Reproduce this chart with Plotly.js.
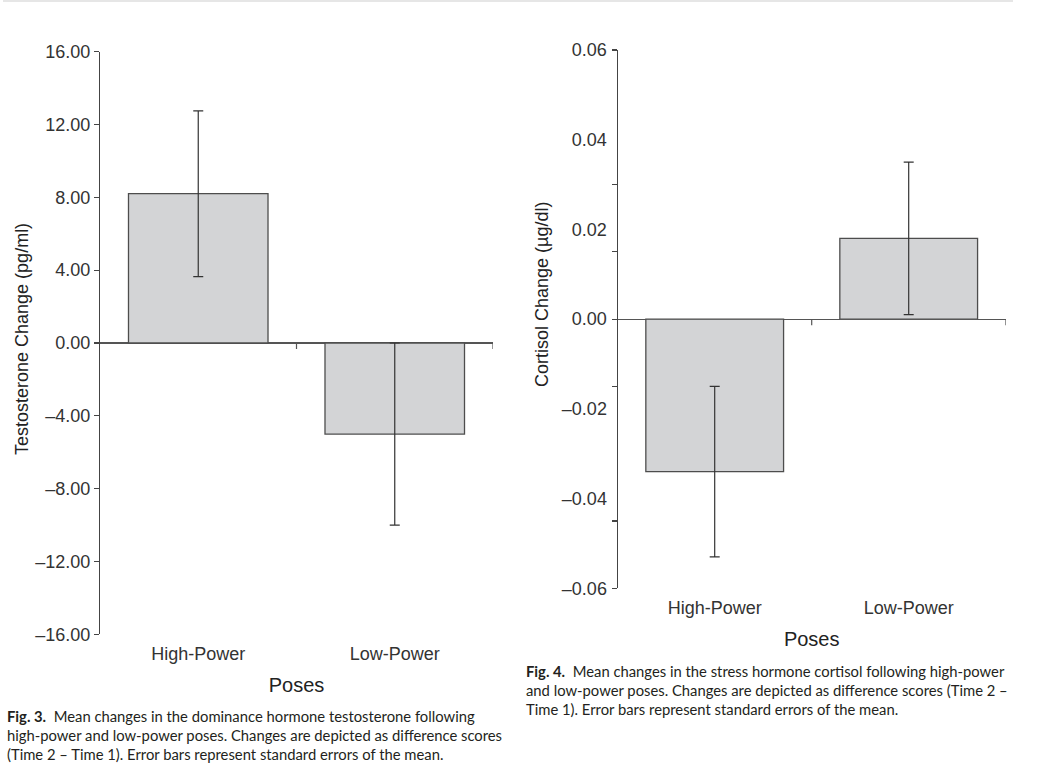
<!DOCTYPE html>
<html>
<head>
<meta charset="utf-8">
<script src="https://cdn.plot.ly/plotly-3.0.1.min.js"></script>
<style>html,body{margin:0;padding:0;background:#fff;}#chart{width:1052px;height:774px;}</style>
</head>
<body>
<div id="chart"></div>
<script>
// ---- data ----
const categories = ['High-Power', 'Low-Power'];
const testosteroneMeans = [8.2, -5.0];
const testosteroneSE = [4.55, 5.0];
const cortisolMeans = [-0.034, 0.018];
const cortisolSE = [0.019, 0.017];

const testoTickVals = [-16, -12, -8, -4, 0, 4, 8, 12, 16];
const testoTickText = ['–16.00', '–12.00', '–8.00', '–4.00', '0.00', '4.00', '8.00', '12.00', '16.00'];
const cortTickVals = [-0.06, -0.04, -0.02, 0, 0.02, 0.04, 0.06];
const cortTickText = ['–0.06', '–0.04', '–0.02', '0.00', '0.02', '0.04', '0.06'];
const cortMarkVals = [0.06, 0.03, 0.015, 0, -0.015, -0.045, -0.06];

const xTitle = 'Poses';
const testoTitle = 'Testosterone Change (pg/ml)';
const cortTitle = 'Cortisol Change (µg/dl)';
const caption3 = '<b>Fig. 3.</b>  Mean changes in the dominance hormone testosterone following<br>high-power and low-power poses. Changes are depicted as difference scores<br>(Time 2 – Time 1). Error bars represent standard errors of the mean.';
const caption4 = '<b>Fig. 4.</b>  Mean changes in the stress hormone cortisol following high-power<br>and low-power poses. Changes are depicted as difference scores (Time 2 –<br>Time 1). Error bars represent standard errors of the mean.';

// ---- layout helpers ----
const W = 1052, H = 774;
const px = v => v / W;
const py = v => 1 - v / H;

const barStyle = {color: '#d3d4d6', line: {color: '#4d4d4d', width: 1.3}};
const errStyle = {type: 'data', visible: true, color: '#333', thickness: 1.2, width: 5};

const traces = [
  {type: 'bar', x: categories, y: testosteroneMeans, xaxis: 'x', yaxis: 'y', width: 0.71,
   marker: barStyle, error_y: Object.assign({array: testosteroneSE}, errStyle), hoverinfo: 'y'},
  {type: 'bar', x: categories, y: cortisolMeans, xaxis: 'x2', yaxis: 'y2', width: 0.71,
   marker: barStyle, error_y: Object.assign({array: cortisolSE}, errStyle), hoverinfo: 'y'}
];

const axisFont = {family: 'Liberation Sans, Arial, sans-serif', size: 18, color: '#333'};

function xAxis(dom, anchor) {
  return {domain: dom, anchor: anchor, type: 'category', range: [-0.5, 1.5],
    showline: false, ticks: 'outside', ticklen: 3, tickcolor: 'rgba(0,0,0,0)', showgrid: false, zeroline: false, tickfont: axisFont,
    title: {text: xTitle, font: {family: 'Liberation Sans, Arial, sans-serif', size: 20, color: '#222'}, standoff: 15}};
}

const layout = {
  width: W, height: H,
  margin: {l: 0, r: 0, t: 0, b: 0},
  paper_bgcolor: '#fff', plot_bgcolor: '#fff',
  showlegend: false,
  font: axisFont,
  xaxis: xAxis([px(100), px(493)], 'y'),
  xaxis2: xAxis([px(617.7), px(1005.7)], 'y2'),
  yaxis: {domain: [py(634.3), py(51.7)], anchor: 'x', range: [-16, 16],
    tickmode: 'array', tickvals: testoTickVals, ticktext: testoTickText,
    showline: true, linecolor: '#444', linewidth: 1.2, ticks: 'outside', ticklen: 5, tickcolor: '#444', tickwidth: 1.2,
    showgrid: false, zeroline: true, zerolinecolor: '#555', zerolinewidth: 1.2, tickfont: axisFont},
  yaxis2: {domain: [py(588.3), py(50)], anchor: 'x2', range: [-0.06, 0.06],
    tickmode: 'array', tickvals: cortTickVals, ticktext: cortTickText,
    showline: true, linecolor: '#444', linewidth: 1.2, ticks: 'outside', ticklen: 6, tickcolor: 'rgba(0,0,0,0)',
    minor: {tickmode: 'array', tickvals: cortMarkVals, ticks: 'outside', ticklen: 5, tickcolor: '#444', tickwidth: 1.2, showgrid: false},
    showgrid: false, zeroline: true, zerolinecolor: '#555', zerolinewidth: 1.2, tickfont: axisFont},
  shapes: [
    // category boundary ticks on the zero line
    {type: 'line', xref: 'x', yref: 'y', x0: 0.5, x1: 0.5, ysizemode: 'pixel', yanchor: 0, y0: 0, y1: -6, line: {color: '#555', width: 1.2}},
    {type: 'line', xref: 'x', yref: 'y', x0: 1.5, x1: 1.5, ysizemode: 'pixel', yanchor: 0, y0: 0, y1: -6, line: {color: '#555', width: 1.2}},
    {type: 'line', xref: 'x2', yref: 'y2', x0: 0.5, x1: 0.5, ysizemode: 'pixel', yanchor: 0, y0: 0, y1: -6, line: {color: '#555', width: 1.2}},
    {type: 'line', xref: 'x2', yref: 'y2', x0: 1.5, x1: 1.5, ysizemode: 'pixel', yanchor: 0, y0: 0, y1: -6, line: {color: '#555', width: 1.2}},
    // faint page rule at top
    {type: 'line', xref: 'paper', yref: 'paper', x0: px(3), x1: px(1013), y0: py(1), y1: py(1), line: {color: '#e6e6e6', width: 2}}
  ],
  annotations: [
    {text: testoTitle, xref: 'paper', yref: 'paper', x: px(22), y: py(339), textangle: -90,
     xanchor: 'center', yanchor: 'middle', showarrow: false, font: {family: 'Liberation Sans, Arial, sans-serif', size: 18, color: '#222'}},
    {text: cortTitle, xref: 'paper', yref: 'paper', x: px(542), y: py(295), textangle: -90,
     xanchor: 'center', yanchor: 'middle', showarrow: false, font: {family: 'Liberation Sans, Arial, sans-serif', size: 18, color: '#222'}},
    {text: caption3, xref: 'paper', yref: 'paper', x: px(5), y: py(705), xanchor: 'left', yanchor: 'top', align: 'left',
     showarrow: false, font: {family: 'Lato, Open Sans, sans-serif', size: 14.8, color: '#231f20'}},
    {text: caption4, xref: 'paper', yref: 'paper', x: px(524), y: py(660), xanchor: 'left', yanchor: 'top', align: 'left',
     showarrow: false, font: {family: 'Lato, Open Sans, sans-serif', size: 14.8, color: '#231f20'}}
  ]
};

Plotly.newPlot('chart', traces, layout, {displayModeBar: false, staticPlot: true});
</script>
</body>
</html>
